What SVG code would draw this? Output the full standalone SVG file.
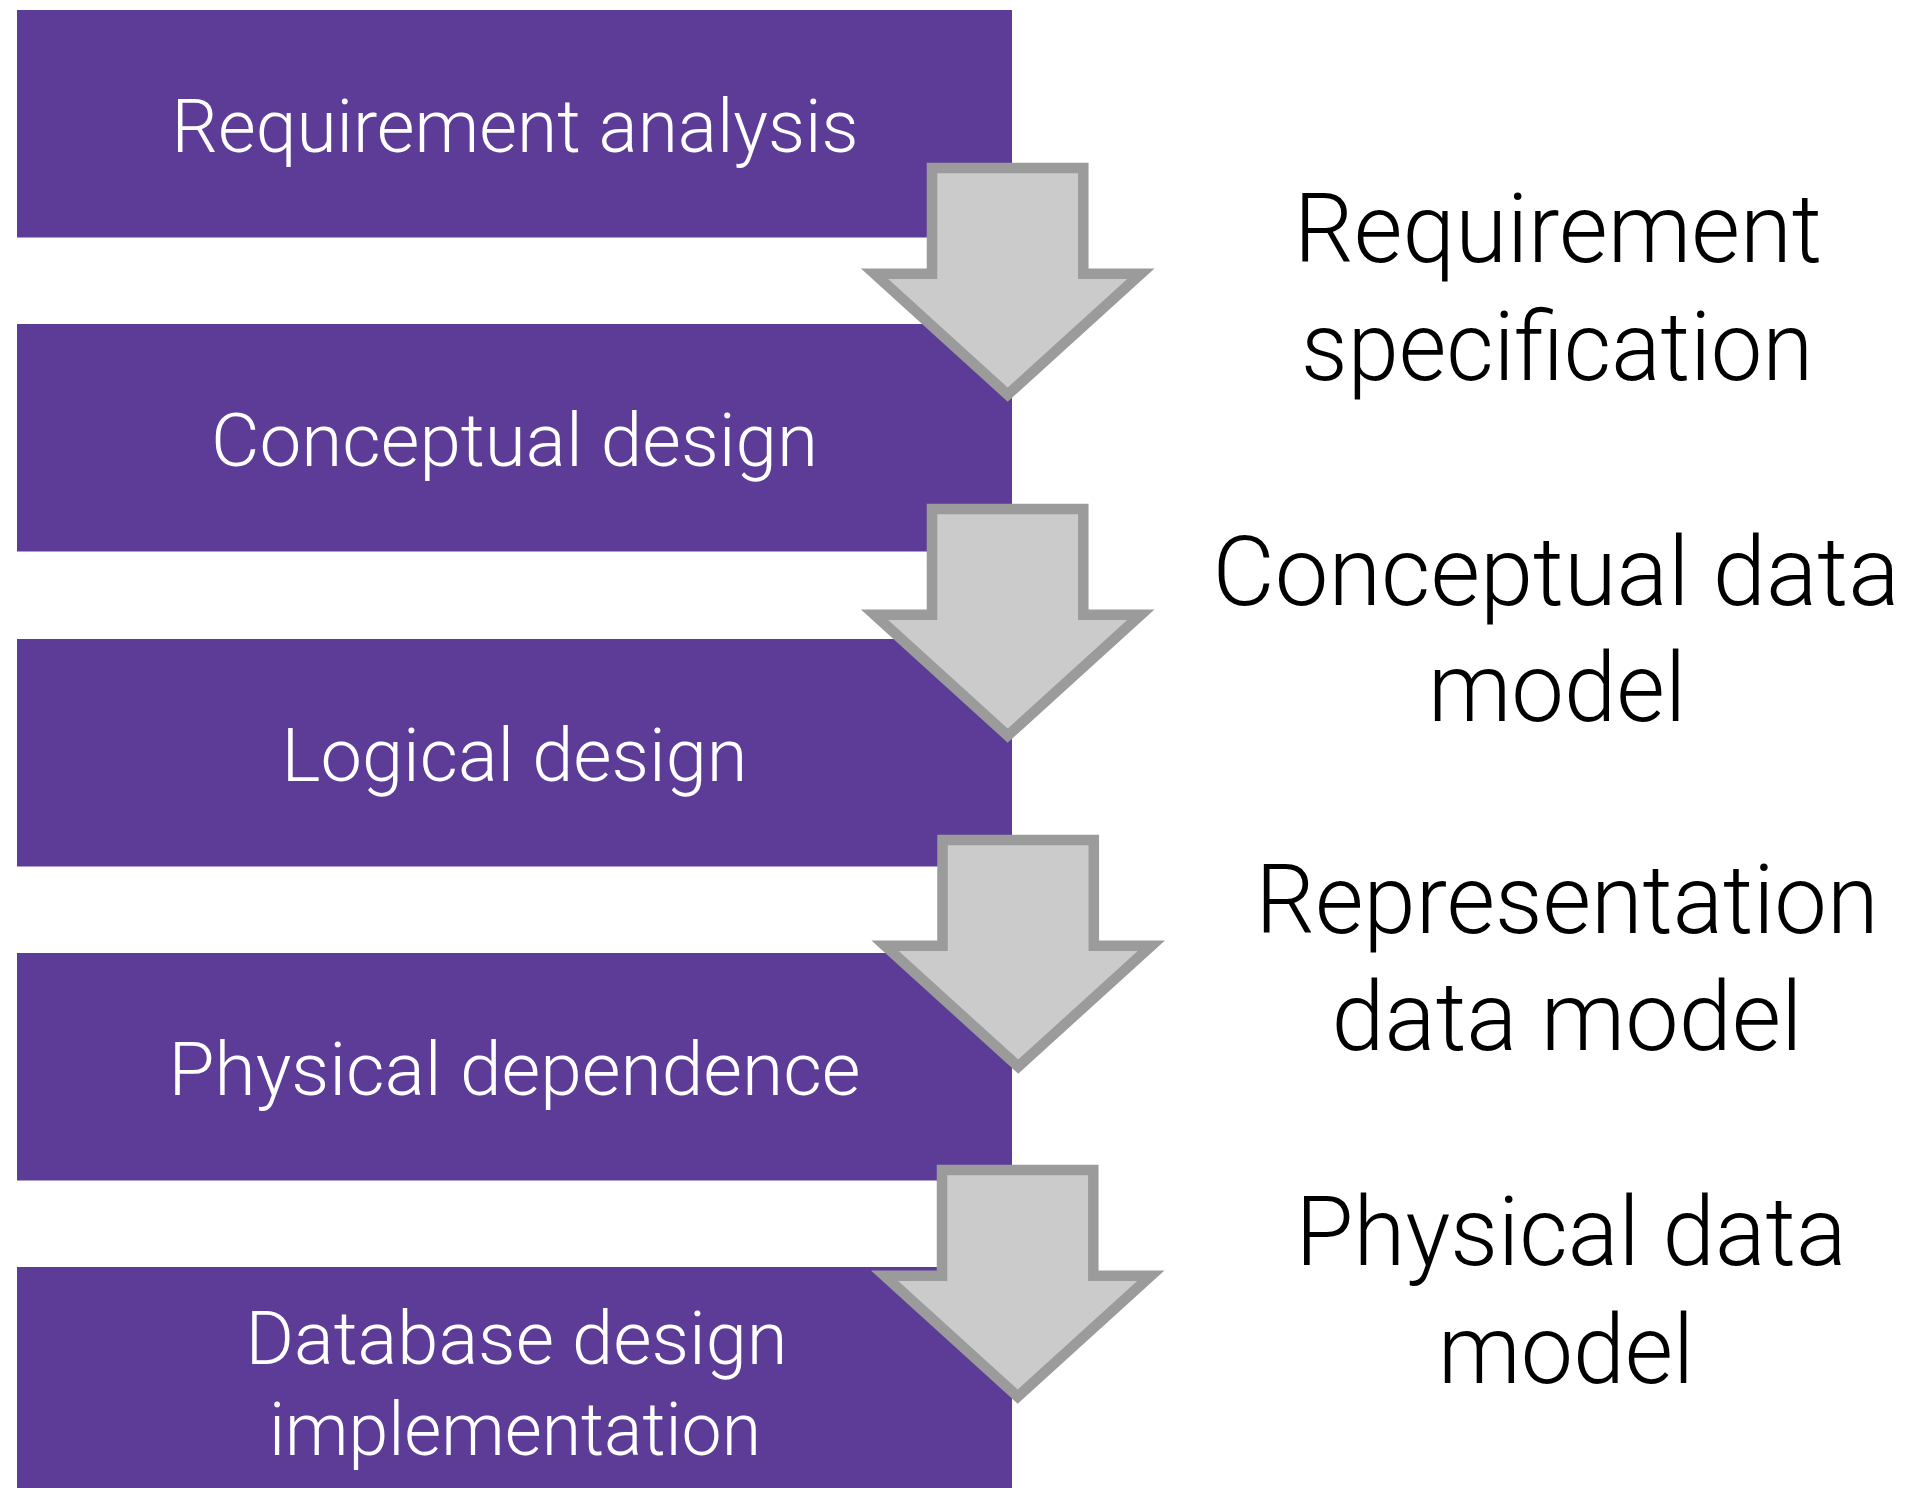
<svg xmlns="http://www.w3.org/2000/svg" width="1912" height="1488" viewBox="0 0 1912 1488">
<style>
.box{fill:#5d3c97}
.bt{font-family:Roboto,"Liberation Sans",sans-serif;font-weight:300;font-size:75px;fill:#ffffff;text-anchor:middle}
.rt{font-family:Roboto,"Liberation Sans",sans-serif;font-weight:300;font-size:96px;fill:#000000;text-anchor:middle}
.arrow{fill:#cbcbcb;stroke:#9b9b9b;stroke-width:10.5;stroke-linejoin:miter}
</style>
<defs>
<polygon id="arr" points="932,168 1083.3,168 1083.3,273.7 1140.9,273.7 1007.7,394.6 874.5,273.7 932,273.7"/>
</defs>
<rect width="1912" height="1488" fill="#ffffff"/>
<g id="node-requirement-analysis">
<rect class="box" x="17" y="10" width="995" height="227.5"/>
<text class="bt" x="515" y="151.7" textLength="687" lengthAdjust="spacingAndGlyphs">Requirement analysis</text>
</g>
<g id="node-conceptual-design">
<rect class="box" x="17" y="324" width="995" height="227.5"/>
<text class="bt" x="514.5" y="466.2" textLength="607" lengthAdjust="spacingAndGlyphs">Conceptual design</text>
</g>
<g id="node-logical-design">
<rect class="box" x="17" y="639" width="995" height="227.5"/>
<text class="bt" x="514.5" y="780.7" textLength="466" lengthAdjust="spacingAndGlyphs">Logical design</text>
</g>
<g id="node-physical-dependence">
<rect class="box" x="17" y="953" width="995" height="227.5"/>
<text class="bt" x="514.5" y="1095.2" textLength="692" lengthAdjust="spacingAndGlyphs">Physical dependence</text>
</g>
<g id="node-database-design-implementation">
<rect class="box" x="17" y="1267" width="995" height="228"/>
<text class="bt" x="516.5" y="1364.3" textLength="542" lengthAdjust="spacingAndGlyphs">Database design</text>
<text class="bt" x="515" y="1455" textLength="492" lengthAdjust="spacingAndGlyphs">implementation</text>
</g>
<g id="connectors">
<use href="#arr" class="arrow"/>
<use href="#arr" class="arrow" transform="translate(0,341)"/>
<use href="#arr" class="arrow" transform="translate(10.5,672)"/>
<use href="#arr" class="arrow" transform="translate(10,1002)"/>
</g>
<g id="label-requirement-specification">
<text class="rt" x="1558" y="262" textLength="528" lengthAdjust="spacingAndGlyphs">Requirement</text>
<text class="rt" x="1557" y="380" textLength="512" lengthAdjust="spacingAndGlyphs">specification</text>
</g>
<g id="label-conceptual-data-model">
<text class="rt" x="1556" y="605" textLength="687" lengthAdjust="spacingAndGlyphs">Conceptual data</text>
<text class="rt" x="1557" y="721" textLength="258" lengthAdjust="spacingAndGlyphs">model</text>
</g>
<g id="label-representation-data-model">
<text class="rt" x="1567" y="933" textLength="623" lengthAdjust="spacingAndGlyphs">Representation</text>
<text class="rt" x="1567" y="1050" textLength="471" lengthAdjust="spacingAndGlyphs">data model</text>
</g>
<g id="label-physical-data-model">
<text class="rt" x="1571" y="1265" textLength="551" lengthAdjust="spacingAndGlyphs">Physical data</text>
<text class="rt" x="1566" y="1383" textLength="256" lengthAdjust="spacingAndGlyphs">model</text>
</g>
</svg>
